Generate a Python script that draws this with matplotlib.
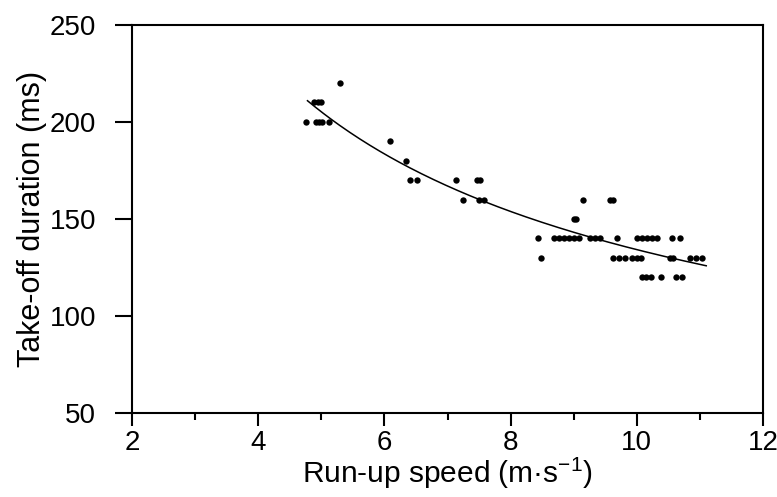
import numpy as np
import matplotlib
matplotlib.use('Agg')
import matplotlib.pyplot as plt
from matplotlib.ticker import MultipleLocator

# run-up speed (m/s) and take-off duration (ms)
speed = [5.29,
         4.89, 4.94, 4.99,
         4.76, 4.92, 4.97, 5.01, 5.12,
         6.09,
         6.34,
         6.40, 6.51, 7.13, 7.47, 7.52,
         7.24, 7.50, 7.58, 9.14, 9.57, 9.62,
         9.01, 9.04,
         8.44, 8.68, 8.76, 8.84, 8.92, 9.00, 9.08, 9.25, 9.33, 9.41, 9.68,
         10.00, 10.08, 10.16, 10.24, 10.32, 10.55, 10.68,
         8.48, 9.63, 9.72, 9.82, 9.92, 10.00, 10.06, 10.53, 10.58, 10.85, 10.94, 11.03,
         10.08, 10.15, 10.22, 10.39, 10.62, 10.72]
duration = [220,
            210, 210, 210,
            200, 200, 200, 200, 200,
            190,
            180,
            170, 170, 170, 170, 170,
            160, 160, 160, 160, 160, 160,
            150, 150,
            140, 140, 140, 140, 140, 140, 140, 140, 140, 140, 140,
            140, 140, 140, 140, 140, 140, 140,
            130, 130, 130, 130, 130, 130, 130, 130, 130, 130, 130, 130,
            120, 120, 120, 120, 120, 120]

speed = np.array(speed)
duration = np.array(duration)

# power-law trend fitted to the points
b, log_a = np.polyfit(np.log(speed), np.log(duration), 1)
xfit = np.linspace(4.78, 11.1, 200)
yfit = np.exp(log_a) * xfit ** b

plt.rcParams['font.family'] = ['Liberation Sans', 'DejaVu Sans']
plt.rcParams['mathtext.fontset'] = 'custom'
plt.rcParams['mathtext.rm'] = 'Liberation Sans'
plt.rcParams['mathtext.default'] = 'rm'

fig = plt.figure(figsize=(7.77, 4.97), dpi=100)
ax = fig.add_axes([0.170, 0.169, 0.812, 0.781])

ax.scatter(speed, duration, s=21, color='black', linewidths=0, zorder=3)
ax.plot(xfit, yfit, color='black', lw=1.1)

ax.set_xlim(2, 12)
ax.set_ylim(50, 250)
ax.xaxis.set_major_locator(MultipleLocator(2))
ax.xaxis.set_minor_locator(MultipleLocator(1))
ax.yaxis.set_major_locator(MultipleLocator(50))

for s in ax.spines.values():
    s.set_linewidth(1.5)
ax.tick_params(axis='x', which='major', direction='out', length=9, width=1.5,
               labelsize=20, pad=3)
ax.tick_params(axis='x', which='minor', direction='out', length=5, width=1.5)
ax.tick_params(axis='y', which='major', direction='out', length=12, width=1.5,
               labelsize=20, pad=14)

ax.set_xlabel('Run-up speed (m·s$^{-1}$)', fontsize=21.5, labelpad=0)
ax.set_ylabel('Take-off duration (ms)', fontsize=22, labelpad=2)

fig.savefig('out.png', dpi=100)
